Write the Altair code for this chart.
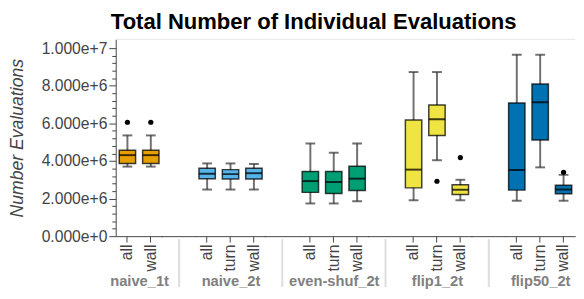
import altair as alt
import pandas as pd

# ---------------- data ----------------
groups = ["naive_1t", "naive_2t", "even-shuf_2t", "flip1_2t", "flip50_2t"]
group_colors = ["#E69F00", "#56B4E9", "#009E73", "#F0E442", "#0072B2"]

box_group = ["naive_1t", "naive_1t",
             "naive_2t", "naive_2t", "naive_2t",
             "even-shuf_2t", "even-shuf_2t", "even-shuf_2t",
             "flip1_2t", "flip1_2t", "flip1_2t",
             "flip50_2t", "flip50_2t", "flip50_2t"]
box_sub = ["all", "wall",
           "all", "turn", "wall",
           "all", "turn", "wall",
           "all", "turn", "wall",
           "all", "turn", "wall"]
whisker_low = [3.70e6, 3.70e6, 2.48e6, 2.48e6, 2.48e6, 1.74e6, 1.74e6, 1.86e6,
               1.91e6, 4.04e6, 1.91e6, 1.89e6, 3.66e6, 1.89e6]
q1 = [3.87e6, 3.87e6, 3.06e6, 3.04e6, 3.04e6, 2.33e6, 2.27e6, 2.43e6,
      2.57e6, 5.36e6, 2.22e6, 2.45e6, 5.12e6, 2.26e6]
median = [4.31e6, 4.31e6, 3.32e6, 3.30e6, 3.35e6, 2.93e6, 2.88e6, 3.06e6,
          3.54e6, 6.22e6, 2.47e6, 3.52e6, 7.12e6, 2.48e6]
q3 = [4.57e6, 4.57e6, 3.61e6, 3.54e6, 3.61e6, 3.44e6, 3.44e6, 3.72e6,
      6.18e6, 6.98e6, 2.73e6, 7.08e6, 8.09e6, 2.71e6]
whisker_high = [5.36e6, 5.36e6, 3.87e6, 3.87e6, 3.84e6, 4.93e6, 4.44e6, 4.93e6,
                8.73e6, 8.73e6, 3.00e6, 9.65e6, 9.65e6, 3.26e6]
outlier = [6.06e6, 6.06e6, None, None, None, None, None, None,
           None, 2.92e6, 4.18e6, None, None, 3.40e6]

y_tick_values = [i * 400000 for i in range(26)]
y_domain = [0, 10470000]

df = pd.DataFrame({
    "group": box_group, "sub": box_sub, "lower": whisker_low, "q1": q1,
    "median": median, "q3": q3, "upper": whisker_high, "outlier": outlier,
})

# ---------------- styling ----------------
FONT = "Liberation Sans"
STEP = 23.88
SPACING = 33.4
H = 201
AX = "#444444"


def panel(i):
    g = groups[i]
    col = group_colors[i]
    subs = [s for gg, s in zip(box_group, box_sub) if gg == g]
    w = len(subs) * STEP
    if i == 0:
        yaxis = alt.Axis(
            values=y_tick_values, format=".3e",
            labelExpr="datum.value % 2000000 === 0 ? datum.label : ''",
            tickSize={"condition": {"test": "datum.value % 2000000 === 0", "value": 7}, "value": 4},
            labelOverlap=False, grid=False, labelFontSize=16, labelColor=AX,
            labelPadding=2, domainColor=AX, tickColor=AX,
            title="Number Evaluations", titleFontSize=18, titleFontStyle="italic",
            titleFontWeight="normal", titleColor=AX, titlePadding=15,
        )
    else:
        yaxis = None
    ys = alt.Scale(domain=y_domain, nice=False, zero=True)
    x = alt.X("sub:N", sort=subs,
              scale=alt.Scale(domain=subs, paddingInner=0, paddingOuter=0),
              axis=alt.Axis(title=g, labelAngle=-90, labelFontSize=16, labelColor=AX,
                            labelPadding=2, tickSize=6, tickColor=AX, domainColor=AX,
                            titleFontSize=15, titleFontWeight="bold", titleColor="#808080",
                            titlePadding=3, grid=False))
    base = alt.Chart(df).transform_filter(alt.datum.group == g)

    whisk = base.mark_rule(color="#707070", strokeWidth=2).encode(
        x=x, y=alt.Y("lower:Q", scale=ys, axis=yaxis), y2="upper:Q")
    cap_hi = base.mark_tick(color="#333333", thickness=2, size=10).encode(
        x=x, y=alt.Y("upper:Q", scale=ys, axis=yaxis))
    cap_lo = base.mark_tick(color="#333333", thickness=2, size=10).encode(
        x=x, y=alt.Y("lower:Q", scale=ys, axis=yaxis))
    box = base.mark_bar(width={"band": 0.7}, color=col, stroke="black",
                        strokeOpacity=0.75, strokeWidth=1.5).encode(
        x=x, y=alt.Y("q1:Q", scale=ys, axis=yaxis), y2="q3:Q")
    med = base.mark_tick(color="black", opacity=0.75, thickness=2, size=STEP * 0.7).encode(
        x=x, y=alt.Y("median:Q", scale=ys, axis=yaxis))
    outl = base.transform_filter("isValid(datum.outlier)").mark_circle(
        size=28, color="black", opacity=1).encode(
        x=x, y=alt.Y("outlier:Q", scale=ys, axis=yaxis))

    deco = alt.Data(values=[{"k": 0}])
    layers = []
    top = alt.Chart(deco).mark_rule(color="#e5e5e5", strokeWidth=1).encode(
        x=alt.value(-SPACING if i > 0 else 0), x2=alt.value(w), y=alt.value(0))
    layers.append(top)
    if i > 0:
        sep = alt.Chart(deco).mark_rule(color="#dddddd", strokeWidth=2).encode(
            x=alt.value(-SPACING / 2), y=alt.value(H + 3), y2=alt.value(H + 52))
        gap = alt.Chart(deco).mark_rule(color=AX, strokeWidth=1).encode(
            x=alt.value(-SPACING - 1), x2=alt.value(1), y=alt.value(H + 0.5))
        layers += [sep, gap]
    layers += [whisk, cap_hi, cap_lo, box, med, outl]
    return alt.layer(*layers).properties(width=w, height=H)


chart = alt.hconcat(*[panel(i) for i in range(len(groups))],
                    spacing=SPACING, bounds="flush").resolve_scale(
    x="independent").properties(
    title=alt.TitleParams("Total Number of Individual Evaluations", fontSize=22.5,
                          fontWeight="bold", anchor="start", frame="group", dx=-5,
                          offset=6, color="black", font=FONT),
    padding={"left": 0, "top": 0, "right": 0, "bottom": 0},
).configure(font=FONT).configure_view(stroke=None)

chart.save("out.html", embed_options={"renderer": "svg", "actions": False})
